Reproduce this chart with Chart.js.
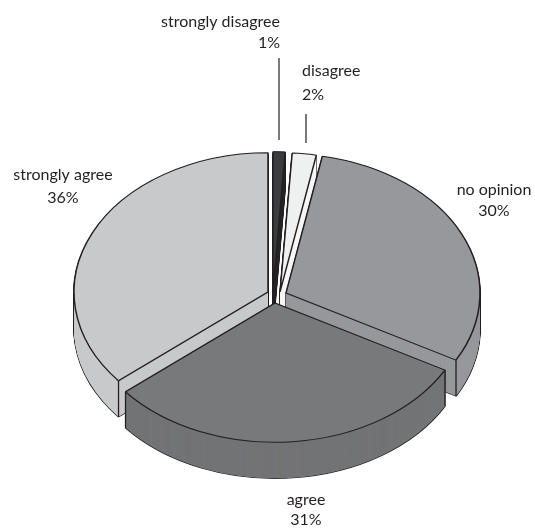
<!DOCTYPE html>
<html>
<head>
<meta charset="utf-8">
<style>html,body{margin:0;padding:0;background:#fff}canvas{display:block}</style>
<script src="https://cdn.jsdelivr.net/npm/chart.js@4"></script>
</head>
<body>
<canvas id="c" width="535" height="528"></canvas>
<script>
const categories = ['strongly disagree', 'disagree', 'no opinion', 'agree', 'strongly agree'];
const percents = [1, 2, 30, 31, 36];
const sliceColors = ['#3b3c3e', '#eff0f0', '#97989c', '#78797b', '#c8c9cb'];
const wallColors = ['#28282a', '#f6f6f6', '#97989c', '#737476', '#c8c9cb'];

// where each exploded wedge's tip sits on the page
const tips = [[273, 291], [280, 292], [286, 293], [275, 303], [268, 292]];
const squash = 0.718, depth = 36, ink = '#231f20';
const paintOrder = [0, 1, 4, 2, 3];
const labelPlaces = [
  {align: 'right', x: 280, y: [27, 48]},
  {align: 'left', x: 302, y: [76, 100]},
  {align: 'center', x: 494, y: [195, 216]},
  {align: 'center', x: 306, y: [505, 525]},
  {align: 'center', x: 63, y: [180, 203]}
];
const leaders = [[279, 58, 140], [306, 114, 143]];

const pie3d = {
  id: 'pie3d',
  beforeDatasetsDraw(chart) {
    const ctx = chart.ctx, arcs = chart.getDatasetMeta(0).data;
    const place = (arc, i, dy) => {
      ctx.translate(tips[i][0], tips[i][1] + dy);
      ctx.scale(1, squash);
      ctx.translate(-arc.x, -arc.y);
    };
    const stamp = (arc, i, dy, fill, bw) => {
      const base = arc.options;
      const o = Object.create(base);
      Object.defineProperties(o, {
        backgroundColor: {value: fill}, borderColor: {value: ink},
        borderWidth: {value: bw}, borderAlign: {value: 'center'}
      });
      arc.options = o;
      ctx.save(); place(arc, i, dy); arc.draw(ctx); ctx.restore();
      arc.options = base;
    };
    paintOrder.forEach(i => {
      const arc = arcs[i];
      stamp(arc, i, depth, wallColors[i], 1.6);
      for (let d = depth - 1; d >= 1; d--) stamp(arc, i, d, wallColors[i], 1.3);
      for (let d = depth; d >= 0; d -= 0.5) stamp(arc, i, d, wallColors[i], 0);
      // vertical corner edges, from the wedge's own angles
      ctx.save();
      ctx.strokeStyle = ink; ctx.lineWidth = 1.3;
      [arc.startAngle, arc.endAngle].forEach(a => {
        const sx = tips[i][0] + Math.cos(a) * arc.outerRadius;
        const sy = tips[i][1] + Math.sin(a) * arc.outerRadius * squash;
        if (Math.sin(a) > -0.5) {
          ctx.beginPath(); ctx.moveTo(sx, sy); ctx.lineTo(sx, sy + depth); ctx.stroke();
        }
      });
      ctx.restore();
      stamp(arc, i, 0, sliceColors[i], 1.5);
    });
    ctx.save();
    ctx.strokeStyle = ink; ctx.lineWidth = 1.2;
    leaders.forEach(([x, y0, y1]) => {
      ctx.beginPath(); ctx.moveTo(x, y0); ctx.lineTo(x, y1); ctx.stroke();
    });
    ctx.fillStyle = ink;
    ctx.font = '16px Lato, "Liberation Sans", sans-serif';
    categories.forEach((name, i) => {
      const p = labelPlaces[i];
      ctx.textAlign = p.align;
      ctx.textBaseline = 'alphabetic';
      ctx.fillText(name, p.x, p.y[0]);
      ctx.fillText(percents[i] + '%', p.x, p.y[1]);
    });
    ctx.restore();
    return false;
  }
};

new Chart(document.getElementById('c'), {
  type: 'pie',
  data: {
    labels: categories,
    datasets: [{data: percents, backgroundColor: sliceColors, borderColor: ink, borderWidth: 1.5}]
  },
  options: {
    responsive: false,
    animation: false,
    radius: 194,
    rotation: 0,
    layout: {padding: 0},
    plugins: {legend: {display: false}, tooltip: {enabled: false}}
  },
  plugins: [pie3d]
});
</script>
</body>
</html>
